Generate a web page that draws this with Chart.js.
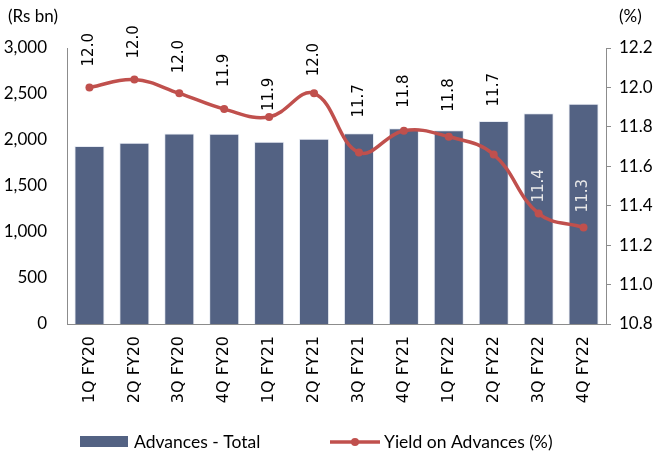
<!DOCTYPE html>
<html>
<head>
<meta charset="utf-8">
<script src="https://cdn.jsdelivr.net/npm/chart.js@4.4.1/dist/chart.umd.min.js"></script>
<style>
  html, body { margin: 0; padding: 0; background: #fff; }
  #wrap { width: 661px; height: 454px; }
</style>
</head>
<body>
<div id="wrap"><canvas id="myChart" width="661" height="454"></canvas></div>
<script>
const quarters = ['1Q FY20', '2Q FY20', '3Q FY20', '4Q FY20', '1Q FY21', '2Q FY21',
                  '3Q FY21', '4Q FY21', '1Q FY22', '2Q FY22', '3Q FY22', '4Q FY22'];
const advances = [1935, 1970, 2072, 2068, 1982, 2014, 2073, 2127, 2105, 2207, 2290, 2395];
const yieldOnAdvances = [12.00, 12.04, 11.97, 11.89, 11.85, 11.97, 11.67, 11.78, 11.75, 11.66, 11.36, 11.29];
const yieldLabels = ['12.0', '12.0', '12.0', '11.9', '11.9', '12.0', '11.7', '11.8', '11.8', '11.7', '11.4', '11.3'];
const leftAxisRange = [0, 3000, 500];
const rightAxisRange = [10.8, 12.2, 0.2];

const barColor = '#536283';
const lineColor = '#C0504D';
const axisColor = '#8c8c8c';
const tickFont = { family: 'Lato', size: 17 };

// gap between each point and its rotated value label
const labelGaps = [21, 21, 20, 22, 6, 17, 35, 23, 25, 48, 11, 15];

const extras = {
  id: 'extras',
  afterDatasetsDraw(chart) {
    const ctx = chart.ctx;
    const lineMeta = chart.getDatasetMeta(1);
    const barMeta = chart.getDatasetMeta(0);
    ctx.save();
    ctx.font = '15px "DejaVu Sans"';
    ctx.textAlign = 'left';
    ctx.textBaseline = 'middle';
    lineMeta.data.forEach((pt, i) => {
      const start = pt.y - labelGaps[i];
      const bar = barMeta.data[i];
      ctx.fillStyle = start > bar.y + 2 ? '#e8e8e8' : '#000';
      ctx.save();
      ctx.translate(pt.x, start);
      ctx.rotate(-Math.PI / 2);
      ctx.fillText(yieldLabels[i], 0, 0);
      ctx.restore();
    });
    ctx.restore();
  },
  afterDraw(chart) {
    const ctx = chart.ctx;
    ctx.save();
    ctx.fillStyle = '#000';
    ctx.font = '17px Lato';
    ctx.textBaseline = 'middle';
    ctx.textAlign = 'left';
    ctx.fillText('(Rs bn)', 8, 17);
    ctx.fillText('(%)', 619, 17);

    // legend
    ctx.font = '17.5px Lato';
    ctx.fillStyle = barColor;
    ctx.fillRect(80, 436, 48, 11);
    ctx.fillStyle = '#000';
    ctx.fillText('Advances - Total', 134, 442);
    ctx.strokeStyle = lineColor;
    ctx.lineWidth = 3.5;
    ctx.beginPath();
    ctx.moveTo(330, 442);
    ctx.lineTo(380, 442);
    ctx.stroke();
    ctx.fillStyle = lineColor;
    ctx.beginPath();
    ctx.arc(355, 442, 4, 0, Math.PI * 2);
    ctx.fill();
    ctx.fillStyle = '#000';
    ctx.fillText('Yield on Advances (%)', 384, 442);
    ctx.restore();
  }
};

new Chart(document.getElementById('myChart').getContext('2d'), {
  data: {
    labels: quarters,
    datasets: [
      {
        type: 'bar',
        label: 'Advances - Total',
        data: advances,
        yAxisID: 'y',
        backgroundColor: barColor,
        borderColor: 'rgba(225,230,240,0.8)',
        borderWidth: 1,
        barPercentage: 0.67,
        categoryPercentage: 1,
        order: 1
      },
      {
        type: 'line',
        label: 'Yield on Advances (%)',
        data: yieldOnAdvances,
        yAxisID: 'y1',
        borderColor: lineColor,
        backgroundColor: lineColor,
        borderWidth: 3.5,
        pointRadius: 4,
        pointBorderWidth: 0,
        tension: 0.4,
        fill: false,
        order: 0
      }
    ]
  },
  options: {
    responsive: false,
    animation: false,
    devicePixelRatio: 1,
    layout: { padding: { top: 48, bottom: 40, left: 0, right: 0 } },
    plugins: {
      legend: { display: false },
      tooltip: { enabled: false }
    },
    scales: {
      x: {
        grid: { display: false, drawTicks: false },
        border: { display: true, color: axisColor, width: 1 },
        ticks: {
          maxRotation: 90, minRotation: 90, padding: 12,
          color: '#000', font: { family: '"DejaVu Sans"', size: 16 }
        },
        afterFit(scale) { scale.height = 90; }
      },
      y: {
        position: 'left',
        min: leftAxisRange[0], max: leftAxisRange[1],
        grid: { display: false, drawTicks: false },
        border: { display: true, color: axisColor, width: 1 },
        ticks: {
          stepSize: leftAxisRange[2], padding: 20, color: '#000', font: tickFont,
          callback: v => v.toLocaleString('en-US')
        },
        afterFit(scale) { scale.width = 67; }
      },
      y1: {
        position: 'right',
        min: rightAxisRange[0], max: rightAxisRange[1],
        grid: { display: true, drawOnChartArea: false, drawTicks: true, tickLength: 5, color: axisColor },
        border: { display: true, color: axisColor, width: 1 },
        ticks: {
          stepSize: rightAxisRange[2], padding: 8, color: '#000', font: tickFont,
          callback: v => v.toFixed(1)
        },
        afterFit(scale) { scale.width = 55; }
      }
    }
  },
  plugins: [extras]
});
</script>
</body>
</html>
